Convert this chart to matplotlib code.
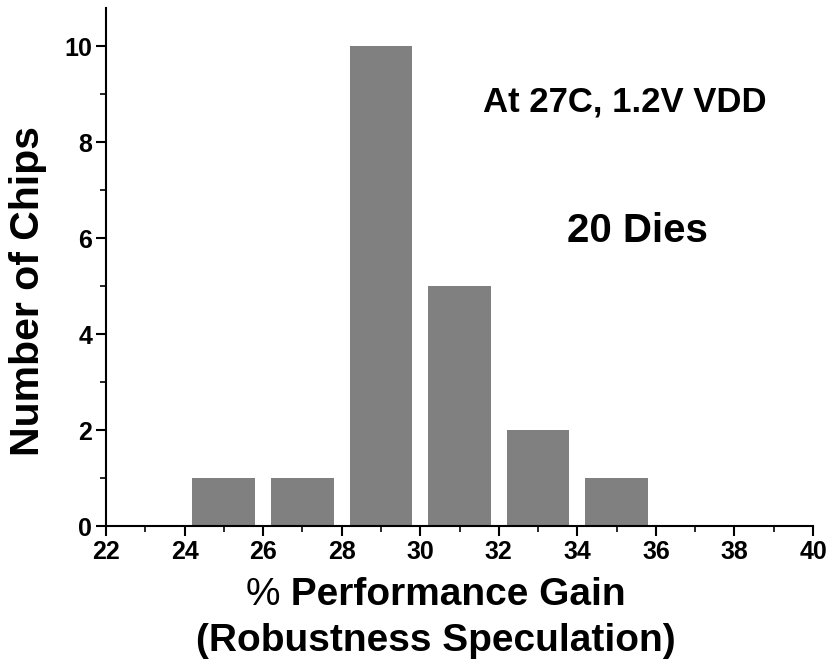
import matplotlib
matplotlib.use('Agg')
import matplotlib.pyplot as plt
from matplotlib.ticker import MultipleLocator

# histogram of gain per die
bin_centers = [25, 27, 29, 31, 33, 35]
chip_counts = [1, 1, 10, 5, 2, 1]
x_ticks = [22, 24, 26, 28, 30, 32, 34, 36, 38, 40]
y_ticks = [0, 2, 4, 6, 8, 10]

plt.rcParams['font.family'] = ['Liberation Sans', 'DejaVu Sans']
plt.rcParams['font.weight'] = 'bold'

fig = plt.figure(figsize=(8.32, 6.64), dpi=100)
ax = fig.add_axes([106/832, 1-526/664, (813-106)/832, (526-8)/664])

ax.bar(bin_centers, chip_counts, width=1.6, color='#808080', edgecolor='none')

ax.set_xlim(22, 40)
ax.set_ylim(0, 10.8)
ax.set_xticks(x_ticks)
ax.set_yticks(y_ticks)
ax.xaxis.set_minor_locator(MultipleLocator(1))
ax.yaxis.set_minor_locator(MultipleLocator(1))
ax.tick_params(which='major', direction='out', length=7, width=1.5, labelsize=18, pad=3)
ax.tick_params(which='minor', direction='out', length=4, width=1.2)
for lab in ax.get_xticklabels() + ax.get_yticklabels():
    lab.set_fontweight('bold')

ax.spines['top'].set_visible(False)
ax.spines['right'].set_visible(False)
ax.spines['left'].set_linewidth(1.5)
ax.spines['bottom'].set_linewidth(1.5)

fig.text(28/832, 1-291/664, 'Number of Chips', fontsize=29.5, fontweight='bold',
         rotation=90, ha='center', va='center')

ax.text(31.6, 8.64, 'At 27C, 1.2V VDD', fontsize=25, fontweight='bold', ha='left', va='baseline')
ax.text(33.74, 5.93, '20 Dies', fontsize=29, fontweight='bold', ha='left', va='baseline')

# x label: "%" drawn in normal weight, rest bold
r = fig.canvas.get_renderer()
cx = 436/832
t1 = fig.text(0, 1-605/664, ' Performance Gain', fontsize=28, fontweight='bold', ha='left', va='baseline')
t0 = fig.text(0, 1-605/664, '%', fontsize=28, fontweight='normal', ha='left', va='baseline')
w0 = t0.get_window_extent(r).width / 832
w1 = t1.get_window_extent(r).width / 832
x0 = cx - (w0 + w1) / 2
t0.set_x(x0)
t1.set_x(x0 + w0)
fig.text(cx, 1-651/664, '(Robustness Speculation)', fontsize=28, fontweight='bold', ha='center', va='baseline')

fig.savefig('out.png', dpi=100)
